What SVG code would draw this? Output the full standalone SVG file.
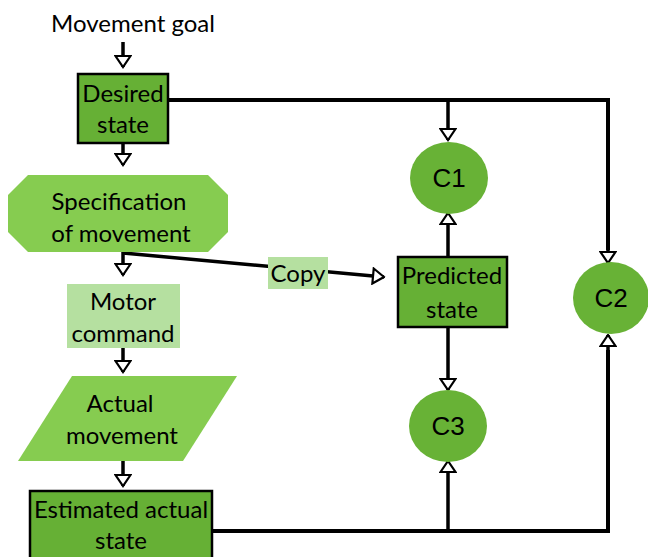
<svg xmlns="http://www.w3.org/2000/svg" width="648" height="557" viewBox="0 0 648 557">
<defs>
<style>
.t{font-family:Lato,"Open Sans","Liberation Sans",sans-serif;font-size:24px;fill:#000;text-anchor:middle}
.c{font-family:"Liberation Sans",Arial,sans-serif;font-size:26px;fill:#000;text-anchor:middle}
.dark{fill:#66b035;stroke:#000;stroke-width:2.5}
.mid{fill:#86cc50}
.light{fill:#b5e0a0}
.circ{fill:#68b236}
.ln{fill:none;stroke:#000;stroke-width:4}
.sh{fill:none;stroke:#000;stroke-width:3.5}
</style>
<marker id="ah" viewBox="0 0 14 18" refX="12.5" refY="9" markerWidth="14" markerHeight="18" markerUnits="userSpaceOnUse" orient="auto">
<path d="M1.5,1.5 L12.5,9 L1.5,16.5 Z" fill="#fff" stroke="#000" stroke-width="2.2" stroke-linejoin="miter"/>
</marker>
</defs>
<rect width="648" height="557" fill="#fff"/>
<g id="connectors">
<line class="sh" x1="123" y1="42" x2="123" y2="67" marker-end="url(#ah)"/>
<line class="sh" x1="123" y1="143" x2="123" y2="165" marker-end="url(#ah)"/>
<line class="sh" x1="123" y1="252" x2="123" y2="275" marker-end="url(#ah)"/>
<line class="sh" x1="123" y1="253" x2="384" y2="277" marker-end="url(#ah)"/>
<line class="sh" x1="123" y1="348" x2="123" y2="372" marker-end="url(#ah)"/>
<line class="sh" x1="123" y1="461" x2="123" y2="486" marker-end="url(#ah)"/>
<polyline class="ln" points="168,100 608,100 608,250"/>
<line class="sh" x1="608" y1="246" x2="608" y2="263" marker-end="url(#ah)"/>
<line class="sh" x1="448" y1="100" x2="448" y2="140" marker-end="url(#ah)"/>
<line class="sh" x1="448" y1="257" x2="448" y2="213" marker-end="url(#ah)"/>
<line class="sh" x1="448" y1="327" x2="448" y2="390" marker-end="url(#ah)"/>
<polyline class="ln" points="212,531 608,531 608,350"/>
<line class="sh" x1="608" y1="352" x2="608" y2="335" marker-end="url(#ah)"/>
<line class="sh" x1="448" y1="531" x2="448" y2="461" marker-end="url(#ah)"/>
</g>
<g id="movement-goal"><text class="t" x="133" y="32">Movement goal</text></g>
<g id="desired-state">
<rect class="dark" x="78" y="74" width="90" height="69"/>
<text class="t" x="123" y="102">Desired</text>
<text class="t" x="123" y="133">state</text>
</g>
<g id="specification">
<polygon class="mid" points="28,175 208,175 228,195 228,232 208,252 28,252 8,232 8,195"/>
<text class="t" x="119" y="210">Specification</text>
<text class="t" x="121" y="242">of movement</text>
</g>
<g id="copy">
<rect class="light" x="268" y="257" width="60" height="32"/>
<text class="t" x="298" y="282">Copy</text>
</g>
<g id="motor-command">
<rect class="light" x="67" y="284" width="113" height="64"/>
<text class="t" x="123" y="310">Motor</text>
<text class="t" x="123" y="342">command</text>
</g>
<g id="actual-movement">
<polygon class="mid" points="72,376 237,376 183,461 18,461"/>
<text class="t" x="120" y="412">Actual</text>
<text class="t" x="122" y="444">movement</text>
</g>
<g id="estimated-actual-state">
<rect class="dark" x="30" y="491" width="182" height="72"/>
<text class="t" x="121" y="518">Estimated actual</text>
<text class="t" x="121" y="549">state</text>
</g>
<g id="predicted-state">
<rect class="dark" x="398" y="257" width="109" height="70"/>
<text class="t" x="452" y="284">Predicted</text>
<text class="t" x="452" y="318">state</text>
</g>
<g id="c1"><ellipse class="circ" cx="449" cy="178" rx="39" ry="36"/><text class="c" x="449" y="187">C1</text></g>
<g id="c2"><ellipse class="circ" cx="611" cy="298" rx="38" ry="36"/><text class="c" x="611" y="307">C2</text></g>
<g id="c3"><ellipse class="circ" cx="448" cy="426" rx="39" ry="36"/><text class="c" x="448" y="435">C3</text></g>
</svg>
